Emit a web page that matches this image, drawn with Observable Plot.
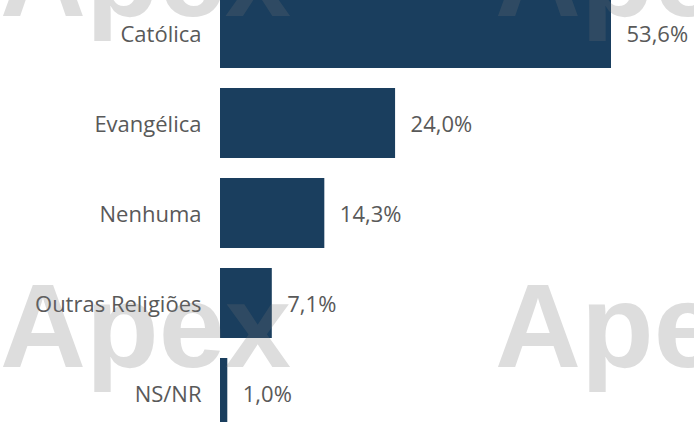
<!DOCTYPE html>
<html>
<head>
<meta charset="utf-8">
<script src="https://cdn.jsdelivr.net/npm/d3@7"></script>
<script src="https://cdn.jsdelivr.net/npm/@observablehq/plot@0.6"></script>
<style>
  html, body { margin: 0; padding: 0; background: #fff; }
  #wrap { position: relative; width: 694px; height: 422px; overflow: hidden; }
  .wm { position: absolute; font-family: "Liberation Sans", Arial, sans-serif; font-weight: bold;
        font-size: 119px; line-height: 1; color: rgb(115,115,115); opacity: 0.24; pointer-events: none; white-space: nowrap; }
</style>
</head>
<body>
<div id="wrap"></div>
<script>
const categories = ["Católica", "Evangélica", "Nenhuma", "Outras Religiões", "NS/NR"];
const values = [53.6, 24.0, 14.3, 7.1, 1.0];
const valueLabels = ["53,6%", "24,0%", "14,3%", "7,1%", "1,0%"];
const watermarkText = "Apex";

const data = categories.map((c, i) => ({category: c, value: values[i], label: valueLabels[i]}));
const font = "'Open Sans', 'Noto Sans', sans-serif";

const chart = Plot.plot({
  width: 694,
  height: 422,
  marginTop: 0, marginBottom: 0, marginLeft: 0, marginRight: 0,
  style: {background: "transparent", fontFamily: font},
  x: {domain: [0, 53.6], range: [220, 611], axis: null},
  y: {domain: categories, range: [-22.8, 448.5], padding: 0.219, axis: null},
  marks: [
    Plot.barX(data, {y: "category", x: "value", fill: "#1a3e5e"}),
    Plot.text(data, {y: "category", x: () => 0, text: "category", textAnchor: "end", dx: -19, dy: 1,
      fontSize: 22, fill: "#595959", fontFamily: font}),
    Plot.text(data, {y: "category", x: "value", text: "label", textAnchor: "start", dx: 15, dy: 1,
      fontSize: 22, fill: "#595959", fontFamily: font})
  ]
});
const wrap = document.getElementById("wrap");
wrap.appendChild(chart);

// watermark overlay (decoration)
[[0, 16], [495, 16], [0, 367], [495, 367]].forEach(([l, base]) => {
  const d = document.createElement("div");
  d.className = "wm";
  d.textContent = watermarkText;
  d.style.left = l + "px";
  d.style.top = (base - 119 * 0.8465) + "px";
  wrap.appendChild(d);
});
</script>
</body>
</html>
